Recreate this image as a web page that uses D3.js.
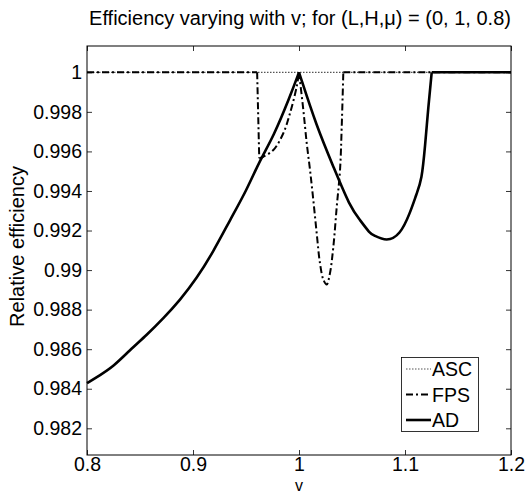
<!DOCTYPE html>
<html><head><meta charset="utf-8">
<script src="https://cdn.jsdelivr.net/npm/d3@7"></script>
<style>body{margin:0;background:#fff}svg{display:block}text{font-family:"Liberation Sans",Arial,sans-serif;fill:#000}</style>
</head><body><svg id="c" width="528" height="494"></svg>
<script>
const title = "Efficiency varying with v; for (L,H,\u03bc) = (0, 1, 0.8)";
const xLabel = "v";
const yLabel = "Relative efficiency";
const xTicks = [0.8, 0.9, 1, 1.1, 1.2];
const yTicks = [0.982, 0.984, 0.986, 0.988, 0.99, 0.992, 0.994, 0.996, 0.998, 1];
const seriesNames = ["ASC", "FPS", "AD"];

const ascV = [0.8, 1.2];
const ascE = [1, 1];

const fpsV = [0.8, 0.9605, 0.9625, 0.9663, 0.9758, 0.9852, 0.9915, 0.9978, 1.0, 1.0041, 1.0073, 1.0104, 1.0135, 1.0167, 1.0198, 1.0229, 1.0261, 1.0292, 1.0324, 1.0356, 1.0387, 1.0403, 1.0418, 1.2];
const fpsE = [1, 1, 0.99565, 0.99573, 0.99607, 0.99692, 0.99793, 0.99927, 1.0, 0.99809, 0.99641, 0.99506, 0.99354, 0.99186, 0.99034, 0.98953, 0.98927, 0.98984, 0.99118, 0.99320, 0.99506, 0.99725, 1.0, 1];
const fpsCusps = [0.9605, 0.9625, 1.0, 1.0418];

const adV = [0.8, 0.8123, 0.8248, 0.8406, 0.8563, 0.872, 0.8877, 0.9035, 0.9192, 0.9349, 0.9507, 0.9632, 0.9758, 0.9915, 1.0, 1.0167, 1.0324, 1.0481, 1.0575, 1.067, 1.0701, 1.0827, 1.0953, 1.1047, 1.111, 1.1158, 1.1189, 1.122, 1.1252, 1.2];
const adE = [0.98428, 0.98469, 0.98512, 0.98596, 0.98672, 0.98756, 0.98848, 0.98958, 0.99093, 0.99253, 0.99405, 0.99557, 0.99674, 0.99877, 1.0, 0.99725, 0.99523, 0.99320, 0.99253, 0.99185, 0.99177, 0.99144, 0.99177, 0.99287, 0.99388, 0.99455, 0.99624, 0.99826, 1.0, 1.0];
const adCusps = [1.0, 1.1252];

const svg = d3.select("#c");
const L = 87, R = 511, T = 46, B = 455;
const x = d3.scaleLinear().domain([0.8, 1.2]).range([L, R]);
const y = d3.scaleLinear().domain([0.98065, 1.00133]).range([B, T]);
const fs = 19.5, fsT = 20;

svg.append("rect").attr("x", L).attr("y", T).attr("width", R - L).attr("height", B - T)
  .attr("fill", "#fff").attr("stroke", "#000").attr("stroke-width", 1);

const tk = 5;
const axB = svg.append("g").attr("transform", `translate(0,${B})`)
  .call(d3.axisBottom(x).tickValues(xTicks).tickSizeInner(-tk).tickSizeOuter(0).tickPadding(2).tickFormat(d3.format("")));
const axT = svg.append("g").attr("transform", `translate(0,${T})`)
  .call(d3.axisTop(x).tickValues(xTicks).tickSizeInner(-tk).tickSizeOuter(0).tickFormat(""));
const axL = svg.append("g").attr("transform", `translate(${L},0)`)
  .call(d3.axisLeft(y).tickValues(yTicks).tickSizeInner(-tk).tickSizeOuter(0).tickPadding(5).tickFormat(d3.format("")));
const axR = svg.append("g").attr("transform", `translate(${R},0)`)
  .call(d3.axisRight(y).tickValues(yTicks).tickSizeInner(-tk).tickSizeOuter(0).tickFormat(""));
[axB, axT, axL, axR].forEach(a => {
  a.select(".domain").remove();
  a.selectAll(".tick line").attr("stroke", "#000").attr("stroke-width", 0.8);
  a.selectAll("text").attr("font-size", fs).attr("font-family", '"Liberation Sans",Arial,sans-serif').attr("fill", "#000");
});

svg.append("clipPath").attr("id", "cp").append("rect")
  .attr("x", L - 1).attr("y", T).attr("width", R - L + 2).attr("height", B - T);
const g = svg.append("g").attr("clip-path", "url(#cp)");
const lineOf = c => d3.line().x(d => x(d[0])).y(d => y(d[1])).curve(c);
const zip = (a, b) => a.map((v, i) => [v, b[i]]);
function split(pts, cusps) {
  const out = []; let cur = [];
  pts.forEach(p => {
    cur.push(p);
    if (cusps.includes(p[0])) { out.push(cur); cur = [p]; }
  });
  if (cur.length > 1) out.push(cur);
  return out;
}
function pathD(pts, cusps, c) { const ln = lineOf(c); return split(pts, cusps).map(s => ln(s)).join(""); }

const styles = {
  ASC: {w: 1.2, dash: "1.5,1.5", color: "#555"},
  FPS: {w: 2, dash: "7,3,2,3", color: "#000"},
  AD: {w: 2.6, dash: null, color: "#000"}
};
const paths = {
  ASC: lineOf(d3.curveLinear)(zip(ascV, ascE)),
  FPS: pathD(zip(fpsV, fpsE), fpsCusps, d3.curveCatmullRom.alpha(0.5)),
  AD: pathD(zip(adV, adE), adCusps, d3.curveBasis)
};
seriesNames.forEach(n => {
  const s = styles[n];
  g.append("path").attr("d", paths[n]).attr("fill", "none")
    .attr("stroke", s.color).attr("stroke-width", s.w)
    .attr("stroke-dasharray", s.dash).attr("stroke-linejoin", "round");
});

svg.append("text").attr("x", (L + R) / 2 + 1).attr("y", 25).attr("text-anchor", "middle")
  .attr("font-size", fsT).text(title);
svg.append("text").attr("x", (L + R) / 2).attr("y", 490.5).attr("text-anchor", "middle")
  .attr("font-size", 16).text(xLabel);
svg.append("text").attr("transform", `translate(24,${(T + B) / 2 - 4}) rotate(-90)`)
  .attr("text-anchor", "middle").attr("font-size", fsT).text(yLabel);

const lg = svg.append("g");
lg.append("rect").attr("x", 401.5).attr("y", 357.5).attr("width", 77).attr("height", 74)
  .attr("fill", "#fff").attr("stroke", "#000").attr("stroke-width", 0.8);
seriesNames.forEach((n, i) => {
  const yy = 369 + i * 25.5;
  const s = styles[n];
  lg.append("line").attr("x1", 406).attr("x2", 431).attr("y1", yy).attr("y2", yy)
    .attr("stroke", s.color).attr("stroke-width", s.w).attr("stroke-dasharray", s.dash);
  lg.append("text").attr("x", 432).attr("y", yy).attr("dy", "0.36em").attr("font-size", fs).text(n);
});
</script></body></html>
